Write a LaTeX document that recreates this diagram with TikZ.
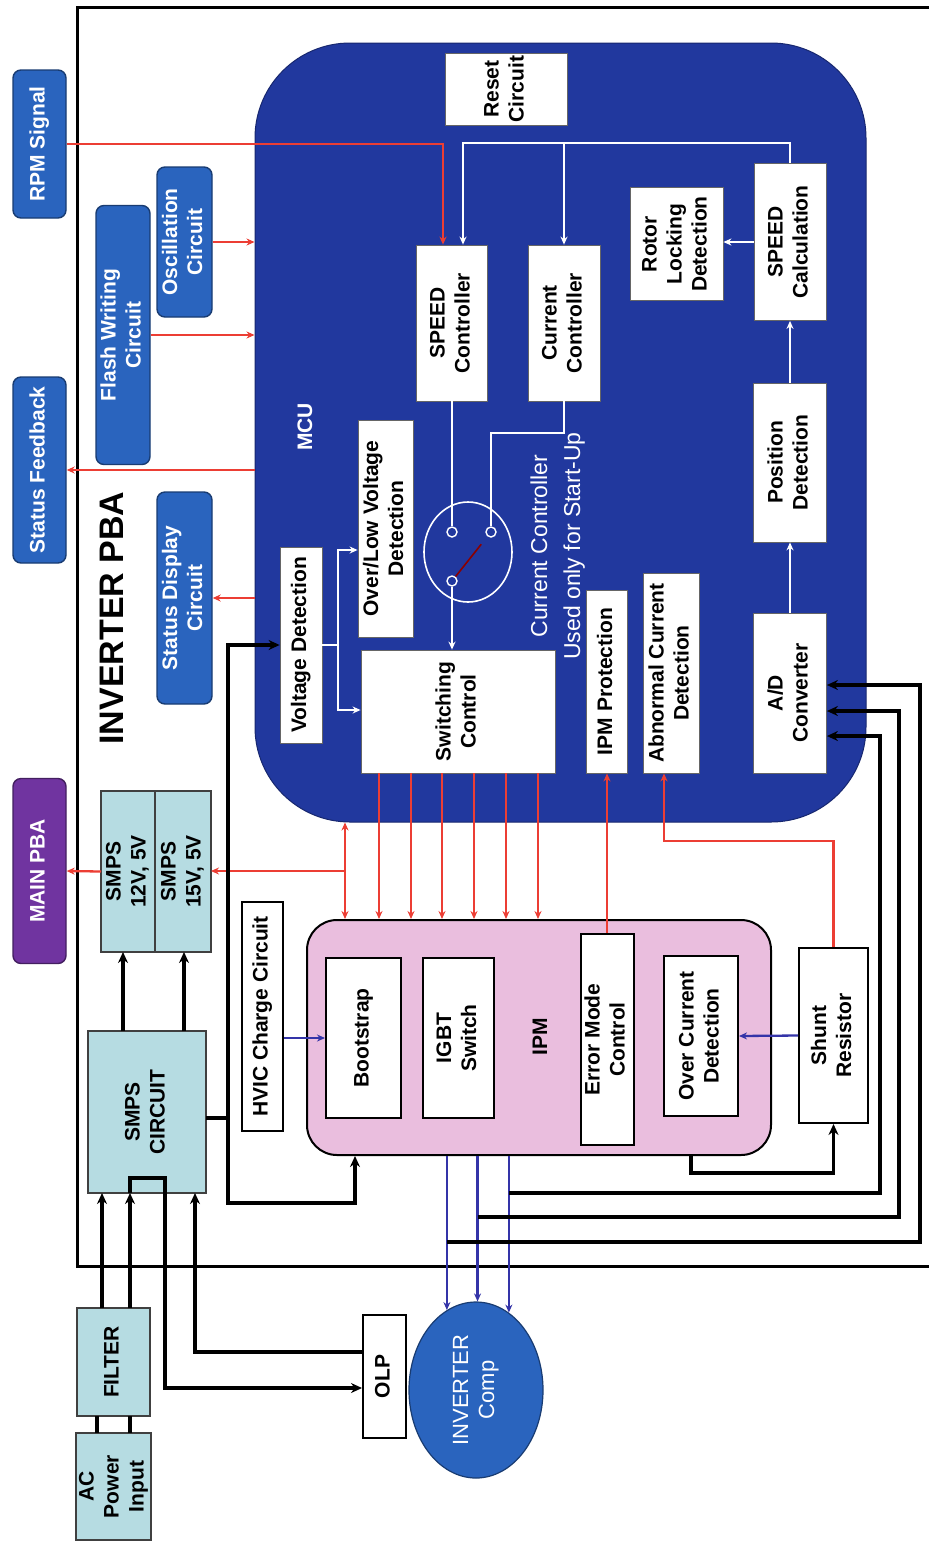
\documentclass[tikz,border=0pt]{standalone}
\usepackage{fontspec}
\setmainfont{Liberation Sans}
\usepackage{graphicx}
\usetikzlibrary{shapes.geometric, arrows.meta, positioning, calc}

\definecolor{mcublue}{RGB}{33,56,158}
\definecolor{sigblue}{RGB}{42,100,190}
\definecolor{pbapurple}{RGB}{112,52,160}
\definecolor{psuteal}{RGB}{182,220,226}
\definecolor{ipmpink}{RGB}{234,190,222}
\definecolor{sigred}{RGB}{236,62,52}
\definecolor{phasenavy}{RGB}{52,52,168}

\newcommand{\vtxt}[1]{\rotatebox{90}{\begin{tabular}{@{}c@{}}#1\end{tabular}}}

\begin{document}
\begin{tikzpicture}[
            x=1pt, y=-1pt,
            >={Stealth[length=8pt, width=7pt]},
            font=\bfseries\fontsize{21}{25}\selectfont,
            wbox/.style={rectangle, draw=black!60, line width=0.8pt, fill=white, inner sep=0pt},
            kbox/.style={rectangle, draw=black, line width=2pt, fill=white, inner sep=0pt},
            sbox/.style={rectangle, rounded corners=8pt, draw=sigblue!60!black, line width=1.4pt, fill=sigblue, text=white, inner sep=0pt},
            pbox/.style={rectangle, draw=black!75, line width=1.8pt, fill=psuteal, inner sep=0pt, outer sep=0pt},
            term/.style={circle, draw=white, line width=1.4pt, fill=mcublue, minimum size=10pt, inner sep=0pt},
            redline/.style={draw=sigred, line width=2.3pt},
            wline/.style={draw=white, line width=1.7pt},
            kline/.style={draw=black, line width=3.5pt},
            nline/.style={draw=phasenavy, line width=2.3pt},
            ktip/.style={-{Stealth[length=11pt, width=10pt]}}
        ]
            \fill[white] (0,0) rectangle (929,1543);
            \useasboundingbox (0,0) rectangle (929,1543);
            \draw[line width=3pt] (929,7) -- (77,7) -- (77,1266) -- (929,1266);

            \node[sbox, minimum width=53, minimum height=148] (rpm) at (39.5,144) {\vtxt{RPM Signal}};
            \node[sbox, minimum width=53, minimum height=186] (stfb) at (39.5,470) {\vtxt{Status Feedback}};
            \node[sbox, fill=pbapurple, draw=pbapurple!60!black, minimum width=53, minimum height=185] (mainpba) at (39.5,871) {\vtxt{MAIN PBA}};
            \node[sbox, minimum width=54, minimum height=259] (flash) at (123,335) {\vtxt{Flash Writing\\Circuit}};
            \node[sbox, minimum width=55, minimum height=150] (osc) at (184.5,242) {\vtxt{Oscillation\\Circuit}};
            \node[sbox, minimum width=55, minimum height=212] (stdisp) at (184.5,598) {\vtxt{Status Display\\Circuit}};
            \node[font=\bfseries\fontsize{34}{40}\selectfont] (pba) at (112,618) {\rotatebox{90}{INVERTER PBA}};

            \node[rectangle, rounded corners=95pt, fill=mcublue, draw=mcublue!70!black, line width=1pt, minimum width=611, minimum height=779] (mcu) at (560.5,432.5) {};
            \node[text=white, font=\bfseries\fontsize{21}{25}\selectfont] (mculbl) at (305,427) {\rotatebox{90}{MCU}};
            \node[wbox, minimum width=122, minimum height=72] (reset) at (506,89) {\vtxt{Reset\\Circuit}};
            \node[wbox, minimum width=71, minimum height=156] (speed) at (452,323) {\vtxt{SPEED\\Controller}};
            \node[wbox, minimum width=72, minimum height=156] (curr) at (564,323) {\vtxt{Current\\Controller}};
            \node[wbox, minimum width=93, minimum height=113] (rotor) at (676.5,244) {\vtxt{Rotor\\Locking\\Detection}};
            \node[wbox, minimum width=72, minimum height=157] (spdcalc) at (790,242) {\vtxt{SPEED\\Calculation}};
            \node[wbox, minimum width=73, minimum height=159] (posdet) at (790,462.5) {\vtxt{Position\\Detection}};
            \node[wbox, minimum width=73, minimum height=160] (adc) at (790,693) {\vtxt{A/D\\Converter}};
            \node[wbox, minimum width=56, minimum height=200] (abnorm) at (671,673) {\vtxt{Abnormal Current\\Detection}};
            \node[wbox, minimum width=41, minimum height=183] (ipmprot) at (607,681.5) {\vtxt{IPM Protection}};
            \node[wbox, minimum width=194, minimum height=123] (swctl) at (458,711.5) {\vtxt{Switching\\Control}};
            \node[wbox, minimum width=42, minimum height=196] (voltdet) at (301,645) {\vtxt{Voltage Detection}};
            \node[wbox, minimum width=55, minimum height=217] (ovlv) at (385.5,528.5) {\vtxt{Over/Low Voltage\\Detection}};
            \node[text=white, font=\fontsize{23}{33}\selectfont] (note) at (557,546) {\vtxt{Current Controller\\Used only for Start-Up}};

            \node[ellipse, draw=white, line width=1.6pt, minimum width=88, minimum height=100, inner sep=0pt] (swsel) at (468,552) {};
            \node[term] (ta) at (452,532) {};
            \node[term] (tb) at (491,532) {};
            \node[term] (tc) at (452,581) {};
            \draw[draw=red!55!black, line width=1.6pt] (tc) -- ($(tc)!0.75!(tb)$);

            \node[rectangle, rounded corners=30pt, fill=ipmpink, draw=black, line width=2pt, minimum width=464, minimum height=235] (ipm) at (539,1037.5) {};
            \node (ipmlbl) at (540,1037) {\rotatebox{90}{IPM}};
            \node[kbox, minimum width=75, minimum height=160] (boot) at (363.5,1038) {\vtxt{Bootstrap}};
            \node[kbox, minimum width=71, minimum height=160] (igbt) at (458.5,1038) {\vtxt{IGBT\\Switch}};
            \node[kbox, minimum width=53, minimum height=211] (errmode) at (607,1039.5) {\vtxt{Error Mode\\Control}};
            \node[kbox, minimum width=74, minimum height=160] (ocd) at (701,1036) {\vtxt{Over Current\\Detection}};
            \node[kbox, minimum width=69, minimum height=175] (shunt) at (833.5,1035.5) {\vtxt{Shunt\\Resistor}};
            \node[kbox, minimum width=41, minimum height=229] (hvic) at (262.5,1016.5) {\vtxt{HVIC Charge Circuit}};

            \node[pbox, minimum width=54, minimum height=161] (smps12) at (128,871.5) {\vtxt{SMPS\\12V, 5V}};
            \node[pbox, minimum width=56, minimum height=161, right=0pt of smps12] (smps15) {\vtxt{SMPS\\15V, 5V}};
            \node[pbox, minimum width=118, minimum height=162] (smpsc) at (147,1112) {\vtxt{SMPS\\CIRCUIT}};
            \node[pbox, minimum width=73, minimum height=108] (filter) at (113.5,1362) {\vtxt{FILTER}};
            \node[pbox, minimum width=73, minimum height=107] (acin) at (113.5,1486.5) {\vtxt{AC\\Power\\Input}};
            \node[kbox, minimum width=43, minimum height=123] (olp) at (384.5,1376.5) {\vtxt{OLP}};
            \node[ellipse, fill=sigblue, draw=sigblue!60!black, line width=1.2pt, minimum width=134, minimum height=176, inner sep=0pt, text=white, font=\fontsize{22}{26}\selectfont] (motor) at (476,1390) {\vtxt{INVERTER\\Comp}};

            \draw[wline, ->] (spdcalc.north) -- ++(0,-20) -| ([xshift=11pt]speed.north);
            \draw[wline, ->] (curr.north |- 0,143) -- (curr.north);
            \draw[wline, ->] (spdcalc.west) -- (spdcalc.west -| rotor.east);
            \draw[wline, ->] (posdet.north) -- (spdcalc.south);
            \draw[wline, ->] (adc.north) -- (posdet.south);
            \draw[wline] (speed.south) -- (ta);
            \draw[wline] (curr.south) -- (curr.south |- 0,433) -| (tb);
            \draw[wline, ->] (tc) -- (tc |- swctl.north);
            \coordinate (vj) at (338,645);
            \draw[wline] (voltdet.east) -- (vj);
            \draw[wline, ->] (vj) |- (ovlv.west |- 0,550);
            \draw[wline, ->] (vj) |- (swctl.west |- 0,710);

            \draw[redline, ->] (rpm.east) -| ([xshift=-9pt]speed.north);
            \draw[redline, ->] (osc.east) -- (osc.east -| mcu.west);
            \draw[redline, ->] (flash.east) -- (flash.east -| mcu.west);
            \draw[redline, ->] (stfb.east -| mcu.west) -- (stfb.east);
            \draw[redline, ->] (stdisp.east -| mcu.west) -- (stdisp.east);
            \foreach \x in {379,411,442,474,506,538}
                \draw[redline, ->] (swctl.south -| \x,0) -- (ipm.north -| \x,0);
            \coordinate (pj) at (345,871);
            \draw[redline, <->] (mcu.south -| pj) -- (ipm.north -| pj);
            \draw[redline, ->] (pj) -- (pj -| smps15.east);
            \draw[redline, ->] (smps12.west) -- (mainpba.east);
            \draw[redline, ->] (errmode.north) -- (ipmprot.south);
            \draw[redline, ->] (shunt.north) -- ++(0,-106) -| ([xshift=-7pt]abnorm.south);

            \draw[nline, ->] (hvic.east |- boot.west) -- (boot.west);
            \draw[nline, ->] (shunt.west) -- (ocd.east);
            \foreach \a in {110,89,67}
                \draw[nline, ->] (ipm.south -| motor.\a) -- (motor.\a);

            \draw[kline, ktip] (smpsc.north -| 123,0) -- (smps12.south -| 123,0);
            \draw[kline, ktip] (smpsc.north -| 184,0) -- (smps15.south -| 184,0);
            \draw[kline] (acin.north -| 97,0) -- (filter.south -| 97,0);
            \draw[kline] (acin.north -| 130,0) -- (filter.south -| 130,0);
            \draw[kline, ktip] (filter.north -| 102,0) -- (smpsc.south -| 102,0);
            \draw[kline, ktip] (filter.north -| 130,0) -- (smpsc.south -| 130,0);
            \draw[kline, ktip] (smpsc.south -| 130,0) |- (165,1178) |- (olp.west |- 0,1388);
            \draw[kline, ktip] (olp.west |- 0,1352) -| (smpsc.south -| 195,0);
            \coordinate (dcj) at (228,1118);
            \draw[kline] (smpsc.east |- dcj) -- (dcj);
            \draw[kline, ktip] (dcj) |- (voltdet.west);
            \draw[kline, ktip] (dcj) |- (355,1203) -- (ipm.south -| 355,0);
            \draw[kline, ktip] (ipm.south -| 691,0) |- (shunt.south |- 0,1173) -- (shunt.south);
            \draw[kline, ktip] (motor.67 |- 0,1193) -| (880,736) -- (adc.east |- 0,736);
            \draw[kline, ktip] (motor.89 |- 0,1217) -| (899,711) -- (adc.east |- 0,711);
            \draw[kline, ktip] (motor.110 |- 0,1242) -| (920,685) -- (adc.east |- 0,685);
        \end{tikzpicture}
\end{document}
